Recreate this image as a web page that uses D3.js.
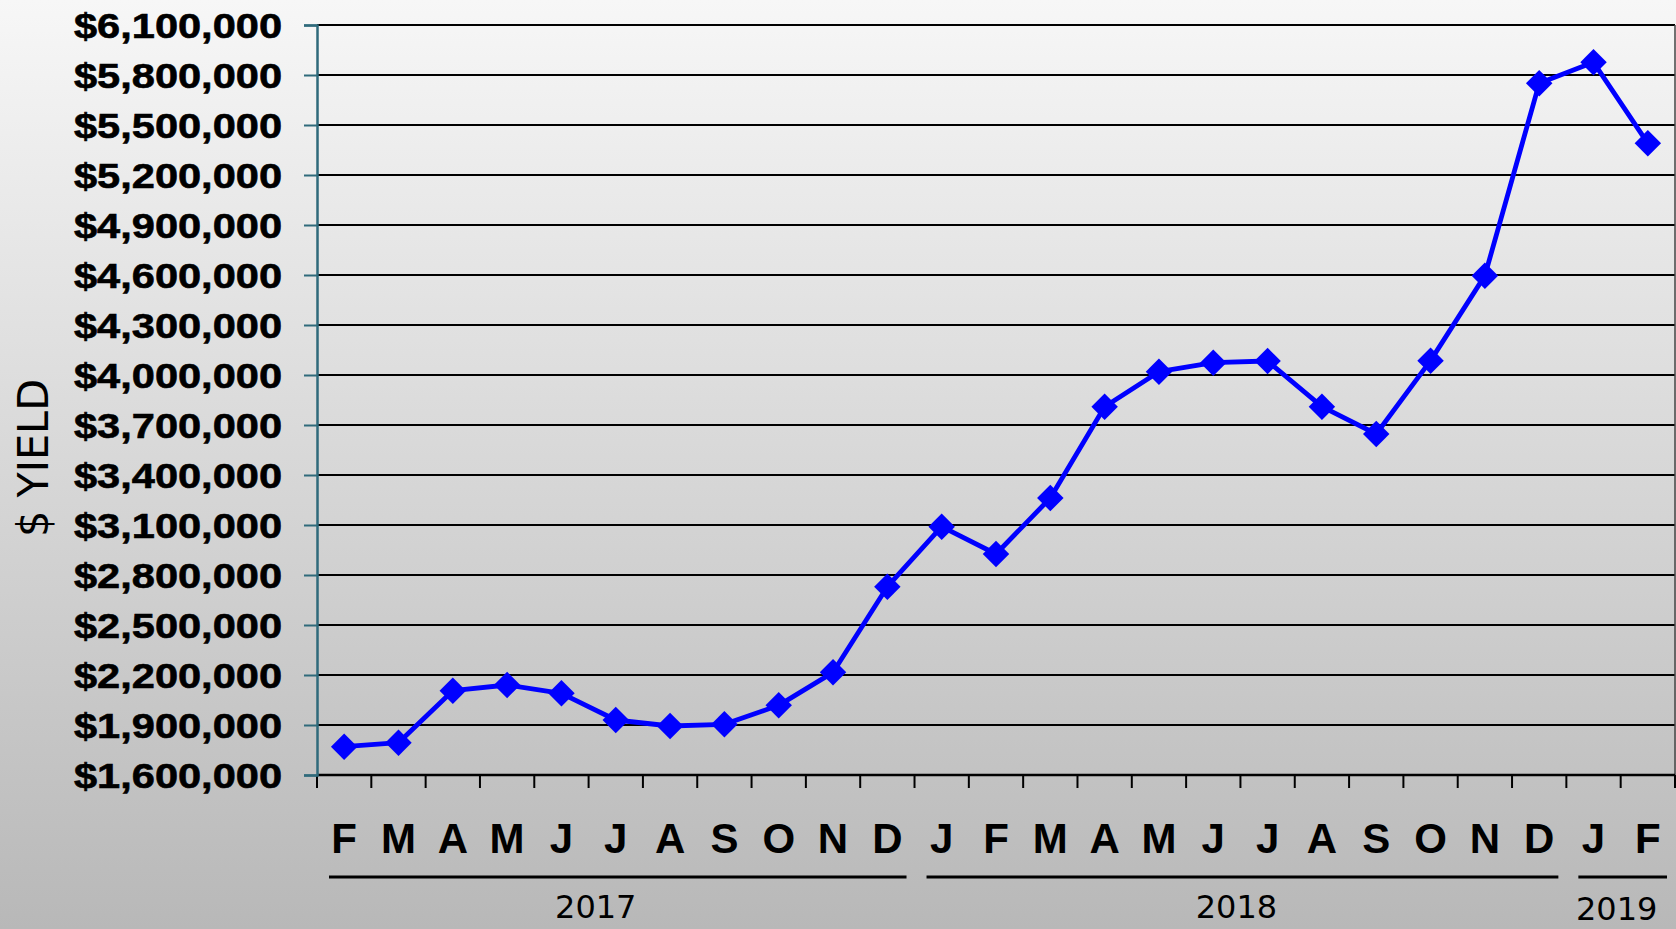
<!DOCTYPE html>
<html>
<head>
<meta charset="utf-8">
<script src="https://cdn.jsdelivr.net/npm/d3@7"></script>
<style>
  html, body { margin: 0; padding: 0; }
  body { width: 1676px; height: 929px; overflow: hidden; }
</style>
</head>
<body>
<div id="chart"></div>
<script>
// month initials, Feb 2017 .. Feb 2019
const months = ["F","M","A","M","J","J","A","S","O","N","D",
                "J","F","M","A","M","J","J","A","S","O","N","D",
                "J","F"];

// $ yield per month
const yields = [1770000, 1794000, 2106000, 2140000, 2090000, 1930000,
                1894000, 1904000, 2018000, 2216000, 2730000,
                3090000, 2926000, 3262000, 3810000, 4020000, 4074000,
                4084000, 3810000, 3646000, 4086000, 4596000, 5750000,
                5876000, 5390000];

// year groups: index of first and last month in each
const yearLabels = ["2017", "2018", "2019"];
const yearFirst  = [0, 11, 23];
const yearLast   = [10, 22, 24];

const yTicks = [1600000, 1900000, 2200000, 2500000, 2800000, 3100000,
                3400000, 3700000, 4000000, 4300000, 4600000, 4900000,
                5200000, 5500000, 5800000, 6100000];

const Width = 1676, Height = 929;
const margin = {top: 25, right: 1, bottom: 154, left: 317};
const width = Width - margin.left - margin.right;
const height = Height - margin.top - margin.bottom;

let svg = d3.select("#chart").append("svg")
            .attr("width", Width)
            .attr("height", Height);

// background gradient
let grad = svg.append("defs").append("linearGradient")
              .attr("id", "bg")
              .attr("x1", 0).attr("y1", 0).attr("x2", 0).attr("y2", 1);
grad.append("stop").attr("offset", "0%").attr("stop-color", "#f7f7f7");
grad.append("stop").attr("offset", "100%").attr("stop-color", "#b8b8b8");
svg.append("rect").attr("width", Width).attr("height", Height).attr("fill", "url(#bg)");

let g = svg.append("g").attr("transform", "translate(" + margin.left + "," + margin.top + ")");

let x = d3.scaleBand().domain(d3.range(months.length)).range([0, width]).padding(0);
let y = d3.scaleLinear().domain([yTicks[0], yTicks[yTicks.length - 1]]).range([height, 0]);

// gridlines
g.append("g").selectAll("line")
  .data(yTicks.slice(1))
  .enter().append("line")
    .attr("x1", 0).attr("x2", width)
    .attr("y1", d => y(d)).attr("y2", d => y(d))
    .attr("stroke", "#000").attr("stroke-width", 2.2);

// right border
g.append("line")
  .attr("x1", width).attr("x2", width)
  .attr("y1", 0).attr("y2", height)
  .attr("stroke", "#444").attr("stroke-width", 1.5);

// x axis line and ticks at category boundaries
g.append("line")
  .attr("x1", 0).attr("x2", width)
  .attr("y1", height).attr("y2", height)
  .attr("stroke", "#000").attr("stroke-width", 2.5);

g.append("g").selectAll("line")
  .data(d3.range(months.length + 1))
  .enter().append("line")
    .attr("x1", i => i * x.step()).attr("x2", i => i * x.step())
    .attr("y1", height).attr("y2", height + 13)
    .attr("stroke", "#000").attr("stroke-width", 2);

// y axis
let yAxis = g.append("g")
  .call(d3.axisLeft(y).tickValues(yTicks).tickSize(13).tickPadding(22)
          .tickFormat(d3.format("$,.0f")));
yAxis.select(".domain").attr("stroke", "#2f6a7b").attr("stroke-width", 2.5);
yAxis.selectAll(".tick line").attr("stroke", "#2f6a7b").attr("stroke-width", 2);
yAxis.selectAll(".tick text")
  .attr("fill", "#000")
  .attr("stroke", "#000")
  .attr("stroke-width", 0.6)
  .attr("font-family", "'Liberation Sans', Arial, sans-serif")
  .attr("font-weight", "bold")
  .attr("font-size", 35)
  .attr("dy", "0.36em")
  .attr("textLength", 208)
  .attr("lengthAdjust", "spacingAndGlyphs");

// month letters
g.append("g").selectAll("text")
  .data(months)
  .enter().append("text")
    .attr("x", (d, i) => x(i) + x.bandwidth() / 2)
    .attr("y", height + 78)
    .attr("text-anchor", "middle")
    .attr("font-family", "'Liberation Sans', Arial, sans-serif")
    .attr("font-weight", "bold")
    .attr("font-size", 42)
    .text(d => d);

// year underlines and labels
let yrs = g.append("g");
yearLabels.forEach(function(label, k) {
  let x0 = x(yearFirst[k]) + 12;
  let x1 = x(yearLast[k]) + x.bandwidth() - 8;
  yrs.append("line")
    .attr("x1", x0).attr("x2", x1)
    .attr("y1", height + 102).attr("y2", height + 102)
    .attr("stroke", "#000").attr("stroke-width", 3);
  yrs.append("text")
    .attr("x", (x0 + x1) / 2 - (k == 0 ? 22 : 6))
    .attr("y", height + (k == 2 ? 145 : 143))
    .attr("text-anchor", "middle")
    .attr("font-family", "'DejaVu Sans', sans-serif")
    .attr("font-size", 32)
    .text(label);
});

// axis title
svg.append("text")
  .attr("transform", "translate(48,458) rotate(-90)")
  .attr("text-anchor", "middle")
  .attr("font-family", "'DejaVu Sans', sans-serif")
  .attr("font-size", 43)
  .attr("textLength", 158)
  .attr("lengthAdjust", "spacingAndGlyphs")
  .text("$ YIELD");

// the series
let line = d3.line()
  .x((d, i) => x(i) + x.bandwidth() / 2)
  .y(d => y(d));

g.append("path")
  .datum(yields)
  .attr("d", line)
  .attr("fill", "none")
  .attr("stroke", "#0000ff")
  .attr("stroke-width", 4.8)
  .attr("stroke-linejoin", "round");

let diamond = d3.symbol().type(d3.symbolSquare).size(350);
g.append("g").selectAll("path")
  .data(yields)
  .enter().append("path")
    .attr("d", diamond)
    .attr("transform", (d, i) => "translate(" + (x(i) + x.bandwidth() / 2) + "," + y(d) + ") rotate(45)")
    .attr("fill", "#0000ff");
</script>
</body>
</html>
